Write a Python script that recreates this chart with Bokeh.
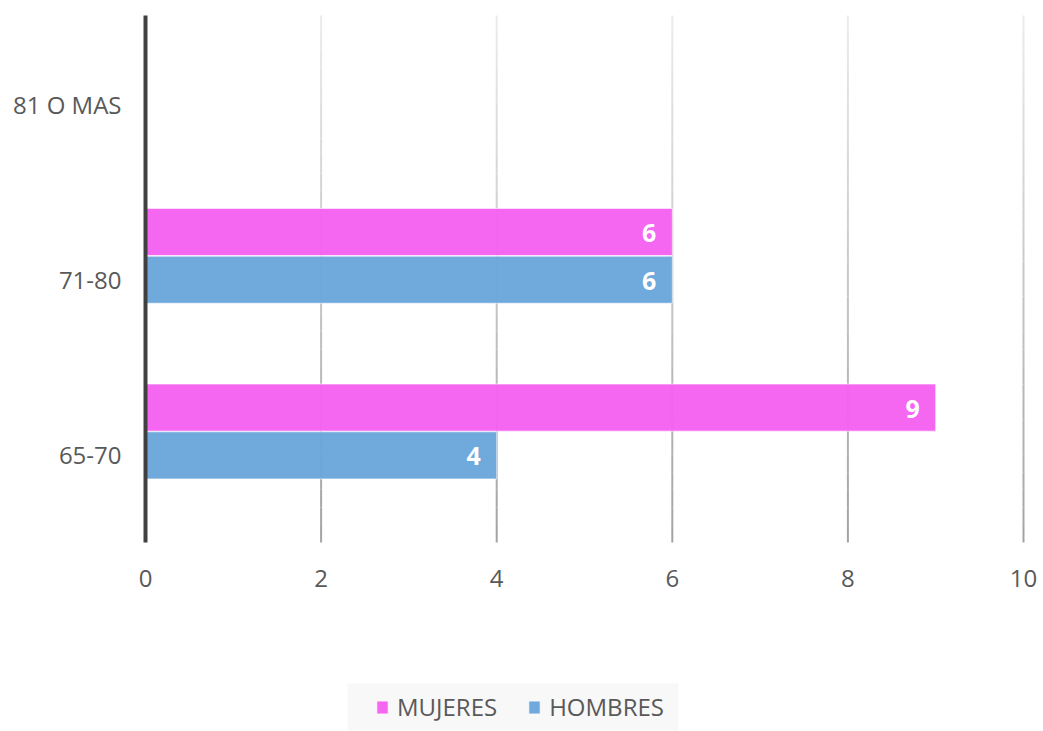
from bokeh.plotting import figure
from bokeh.models import (Range1d, Legend, LegendItem, ColumnDataSource, BoxAnnotation)
from bokeh.core.properties import value
from bokeh.embed import file_html
from bokeh.resources import INLINE

categories = ["65-70", "71-80", "81 O MAS"]
mujeres = [9, 6, 0]
hombres = [4, 6, 0]
x_ticks = [0, 2, 4, 6, 8, 10]
series_names = ["MUJERES", "HOMBRES"]

C_M = "#F560F0"
C_H = "#6AA5DB"
FONT = "Open Sans"
TXT = "#595959"

# layout (pixels)
W, H = 1040, 731
LEFT, TOP, RIGHT, DATA_BOTTOM = 145, 15, 1023, 542
ncat = len(categories)
xmax_v = x_ticks[-1]
pxx = (RIGHT - LEFT) / xmax_v
pxy = (DATA_BOTTOM - TOP) / ncat


def dx(px):
    return (px - LEFT) / pxx


def dy(py):
    return (DATA_BOTTOM - py) / pxy


p = figure(width=W, height=H, output_backend="svg", toolbar_location=None,
           x_range=Range1d(dx(0), dx(W)), y_range=Range1d(dy(H), dy(0)),
           x_axis_location=None, y_axis_location=None,
           min_border=0)
p.outline_line_color = None
p.xgrid.grid_line_color = None
p.ygrid.grid_line_color = None

# gradient grid lines
N = 30
top = (0xEC, 0xEC, 0xEC)
bot = (0xA2, 0xA2, 0xA2)
gx0, gy0, gx1, gy1, gc = [], [], [], [], []
for v in x_ticks[1:]:
    for k in range(N):
        t = (k + 0.5) / N
        c = tuple(int(round(bot[i] + (top[i] - bot[i]) * t)) for i in range(3))
        gx0.append(v); gx1.append(v)
        gy0.append(ncat * k / N); gy1.append(ncat * (k + 1) / N)
        gc.append("#%02x%02x%02x" % c)
p.segment(x0=gx0, y0=gy0, x1=gx1, y1=gy1, line_color=gc, line_width=2)

ypos = [i + 0.5 for i in range(ncat)]
ym = [y + 0.268 for y in ypos]
yh = [y - 0.004 for y in ypos]
hgt = 0.268

src_m = ColumnDataSource(dict(y=ym, right=mujeres, lab=[str(v) if v else "" for v in mujeres]))
src_h = ColumnDataSource(dict(y=yh, right=hombres, lab=[str(v) if v else "" for v in hombres]))

rm = p.hbar(y="y", right="right", left=0, height=hgt, source=src_m,
            fill_color=C_M, fill_alpha=0.96, line_color="white", line_alpha=0.6, line_width=1)
rh = p.hbar(y="y", right="right", left=0, height=hgt, source=src_h,
            fill_color=C_H, fill_alpha=0.96, line_color="white", line_alpha=0.6, line_width=1)

for src in (src_m, src_h):
    p.text(x="right", y="y", text="lab", source=src, text_align="right",
           text_baseline="middle", x_offset=-16, y_offset=1, text_color="white",
           text_font=value(FONT), text_font_style="bold", text_font_size="25px")

# value axis line (dark) at x = 0
p.segment(x0=[0], y0=[0], x1=[0], y1=[ncat], line_color="#404040", line_width=4)

# x tick labels
p.text(x=x_ticks, y=[0] * len(x_ticks), text=[str(v) for v in x_ticks],
       text_align="center", text_baseline="middle", y_offset=36,
       text_color=TXT, text_font=value(FONT), text_font_size="24px")

# category labels
p.text(x=[0] * ncat, y=ypos, text=categories, text_align="right",
       text_baseline="middle", x_offset=-24, y_offset=1,
       text_color=TXT, text_font=value(FONT), text_font_size="24px")

# legend background
p.add_layout(BoxAnnotation(left=dx(347), right=dx(678), top=dy(683), bottom=dy(730),
                           fill_color="#F8F8F8", fill_alpha=1, line_color=None,
                           level="underlay"))

legend = Legend(items=[LegendItem(label=series_names[0], renderers=[rm]),
                       LegendItem(label=series_names[1], renderers=[rh])],
                orientation="horizontal", location=(375, 8),
                background_fill_alpha=0, border_line_color=None,
                label_text_font=FONT, label_text_font_size="24px",
                label_text_color=TXT, glyph_width=14, glyph_height=16,
                spacing=30, padding=10, label_standoff=8, margin=0)
p.add_layout(legend, "center")

open("out.html", "w").write(file_html(p, INLINE))
